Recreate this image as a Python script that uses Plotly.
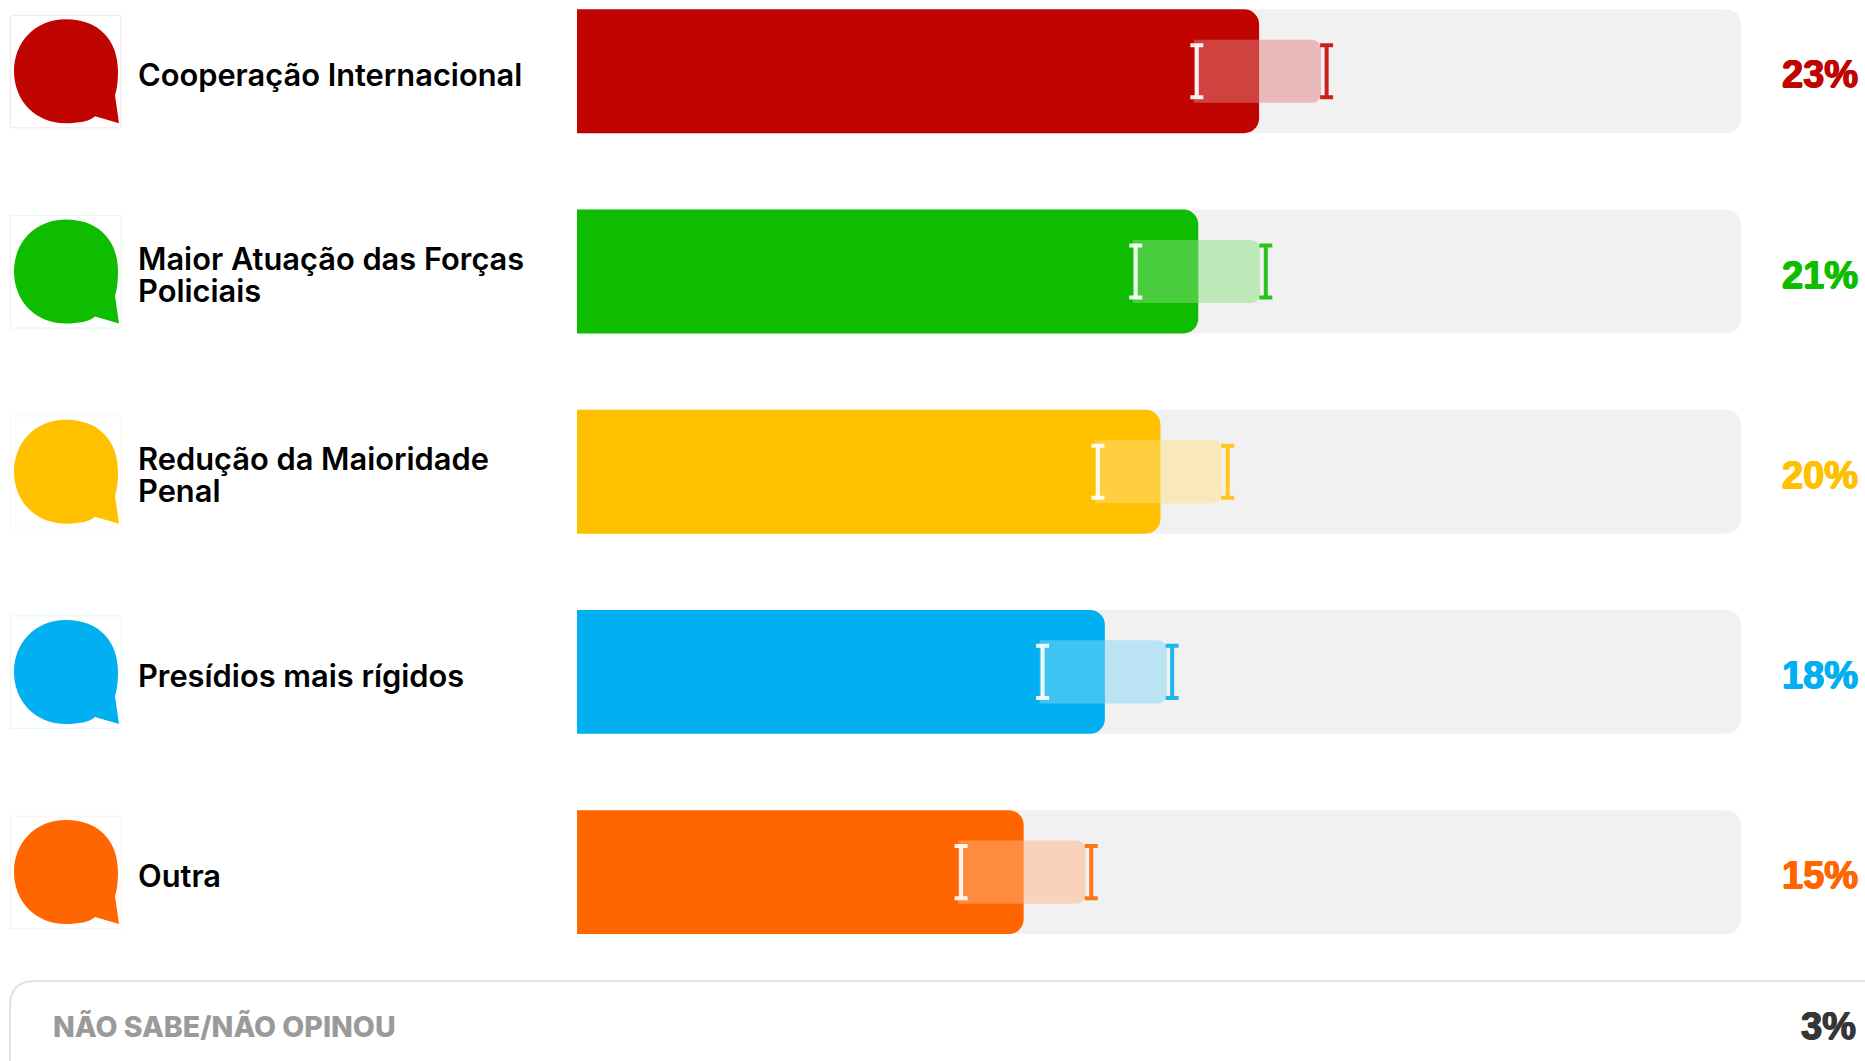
import plotly.graph_objects as go

categories = ["Cooperação Internacional", "Maior Atuação das Forças<br>Policiais",
              "Redução da Maioridade<br>Penal", "Presídios mais rígidos", "Outra"]
values = [23.44, 21.35, 20.05, 18.14, 15.35]
labels = ["23%", "21%", "20%", "18%", "15%"]
low = [21.3, 19.2, 17.9, 16.0, 13.2]
high = [25.76, 23.67, 22.36, 20.45, 17.67]
band_low = [21.2, 19.1, 17.8, 15.9, 13.1]
band_high = [25.57, 23.47, 22.17, 20.27, 17.47]
track_max = [40, 40, 40, 40, 40]
colors = ["#C00500", "#0FBD00", "#FFC000", "#00B0F0", "#FF6600"]
tints = ["#DF8280", "#87DE80", "#FFDF80", "#80D7F7", "#FFB280"]
other_label = "NÃO SABE/NÃO OPINOU"
other_value = "3%"

W, H = 1865, 1061
X0, PX = 577, 29.1
Y0, PY = 71.3, 200.2
FONT = "Inter"
PCT_FONT = "Liberation Sans"
idx = list(range(len(categories)))

fig = go.Figure()
fig.add_bar(y=idx, x=track_max, orientation="h", width=0.619,
            marker=dict(color="#F1F1F1", cornerradius=15, line_width=0), hoverinfo="skip")
fig.add_bar(y=idx, x=values, orientation="h", width=0.619, yaxis="y2",
            marker=dict(color=colors, cornerradius=15, line_width=0), hoverinfo="skip")

# Each band sits on its own x axis, zeroed at its left edge, so only its right end is rounded.
extra_axes = {}
for i, c in enumerate(colors):
    ax = f"x{i + 2}"
    extra_axes[f"xaxis{i + 2}"] = dict(
        range=[-X0 / PX - band_low[i], (W - X0) / PX - band_low[i]],
        visible=False, fixedrange=True, overlaying="x")
    fig.add_bar(y=[i], x=[band_high[i] - band_low[i]], orientation="h", width=0.315,
                xaxis=ax, yaxis="y3",
                marker=dict(color=tints[i], opacity=0.49, cornerradius=9, line_width=0),
                hoverinfo="skip")
    fig.add_scatter(x=[low[i] - band_low[i]], y=[i], mode="markers", xaxis=ax, yaxis="y3",
                    marker=dict(opacity=0, size=1),
                    error_y=dict(type="constant", value=0.13, color="rgba(255,255,255,0.92)",
                                 thickness=4, width=6.5), hoverinfo="skip")
    fig.add_scatter(x=[high[i] - band_low[i]], y=[i], mode="markers", xaxis=ax, yaxis="y3",
                    marker=dict(opacity=0, size=1), opacity=0.88,
                    error_y=dict(type="constant", value=0.13, color=c, thickness=4, width=6.5),
                    hoverinfo="skip")

BUBBLE = ("M 0 52 C 33 52 52 31 52 0 C 52 -9 51 -18 49 -24 L 53 -52 L 29 -45 "
          "C 24 -50 12 -52 0 -52 C -31 -52 -52 -29 -52 0 C -52 29 -31 52 0 52 Z")
BOX = "M -55.5 56 L 55 56 L 55 -56.5 L -55.5 -56.5 Z"
shapes = []
for i, c in enumerate(colors):
    common = dict(type="path", xref="paper", yref="y", xsizemode="pixel", ysizemode="pixel",
                  xanchor=66 / W, yanchor=i, layer="above")
    shapes.append(dict(path=BOX, line=dict(color=c, width=1), opacity=0.1, **common))
    shapes.append(dict(path=BUBBLE, fillcolor=c, line_width=0, **common))

shapes.append(dict(type="path", xref="x", yref="y", xsizemode="pixel", ysizemode="pixel",
                   xanchor=0, yanchor=0, layer="above",
                   path=f"M {10 - X0} {Y0 - 1075} L {10 - X0} {Y0 - 1006} "
                        f"Q {10 - X0} {Y0 - 981} {35 - X0} {Y0 - 981} L {W + 20 - X0} {Y0 - 981}",
                   line=dict(color="#E2E2E2", width=2)))


def heavy(c):
    return f"0.7px 0 0 {c}, -0.7px 0 0 {c}, 0 0.5px 0 {c}, 0 -0.5px 0 {c}"


ann = []
for i, (cat, lab, c) in enumerate(zip(categories, labels, colors)):
    lines = cat.split("<br>")
    for j, line in enumerate(lines):
        off = (3.5 if len(lines) == 1 else 2.7) + (j - (len(lines) - 1) / 2) * 32
        ann.append(dict(text=line, xref="paper", yref="y", x=136 / W, y=i, xanchor="left",
                        yanchor="middle", yshift=-off, showarrow=False,
                        font=dict(family=FONT, size=30.8, weight=600, color="#000000")))
    ann.append(dict(text=lab, xref="paper", yref="y", x=1860 / W, y=i, xanchor="right",
                    yanchor="middle", yshift=-3, showarrow=False,
                    font=dict(family=PCT_FONT, size=38, weight=700, color=c, shadow=heavy(c))))
ann.append(dict(text=other_label, xref="paper", yref="paper", x=51 / W, y=1 - 1026 / H,
                xanchor="left", yanchor="middle", showarrow=False,
                font=dict(family=FONT, size=28.5, weight=800, color="#9A9A9A")))
ann.append(dict(text=other_value, xref="paper", yref="paper", x=1858 / W, y=1 - 1025.5 / H,
                xanchor="right", yanchor="middle", showarrow=False,
                font=dict(family=PCT_FONT, size=38, weight=700, color="#363636",
                          shadow=heavy("#363636"))))

yr = [(H - Y0) / PY, -Y0 / PY]
fig.update_layout(
    width=W, height=H, margin=dict(l=0, r=0, t=0, b=0), autosize=False,
    paper_bgcolor="white", plot_bgcolor="white", barmode="overlay", showlegend=False,
    xaxis=dict(range=[-X0 / PX, (W - X0) / PX], visible=False, fixedrange=True),
    yaxis=dict(range=yr, visible=False, fixedrange=True),
    yaxis2=dict(range=yr, visible=False, fixedrange=True, overlaying="y"),
    yaxis3=dict(range=yr, visible=False, fixedrange=True, overlaying="y"),
    shapes=shapes, annotations=ann, hovermode=False,
    **extra_axes,
)
fig.write_html("out.html", config={"displayModeBar": False},
               post_script="document.body.style.margin='0';document.body.style.overflow='hidden';")
